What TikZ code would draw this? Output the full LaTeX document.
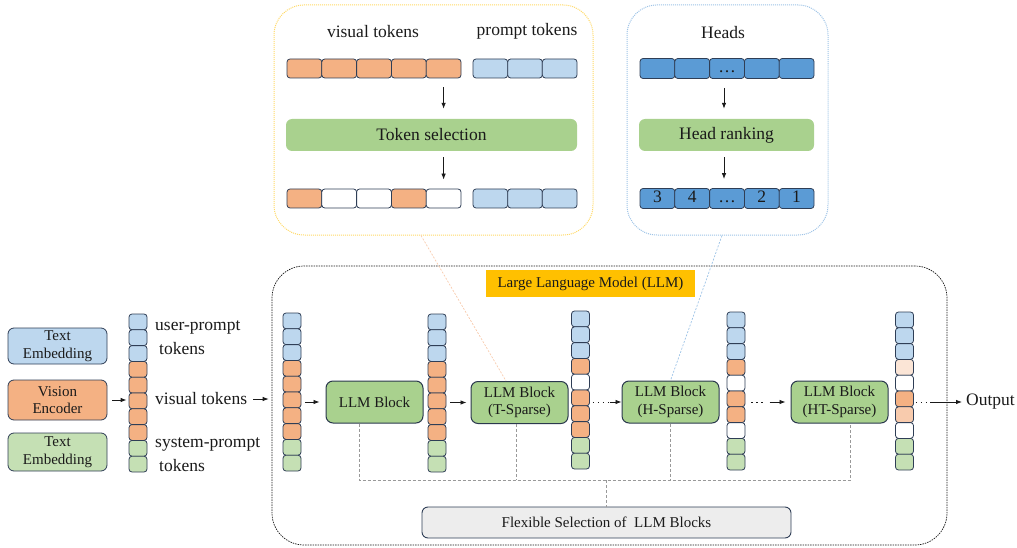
\documentclass[tikz,border=0pt]{standalone}
\usepackage{fontspec}
\setmainfont{Liberation Serif}
\usetikzlibrary{arrows.meta,calc}
\definecolor{cB}{HTML}{BDD7EE}
\definecolor{cO}{HTML}{F4B183}
\definecolor{cG}{HTML}{C5E0B4}
\definecolor{cW}{HTML}{FFFFFF}
\definecolor{cL1}{HTML}{FBE5D6}
\definecolor{cL2}{HTML}{F8CBAD}
\definecolor{cH}{HTML}{5B9BD5}
\definecolor{blk}{HTML}{A9D18E}
\definecolor{gold}{HTML}{FFC000}
\definecolor{flexgray}{HTML}{EDEDED}
\definecolor{edge}{HTML}{2F3E56}
\definecolor{ybord}{HTML}{FFD966}
\definecolor{bbord}{HTML}{9DC3E6}
\definecolor{txt}{HTML}{1A1A1A}
\newcommand{\tokcol}[4]{%
  \foreach \c [count=\i] in {#4} {
    \node[cell, fill=\c] (#1-\i) at (#2, {#3+\i*15.8-7.9}) {};
  }}
\newcommand{\tokrow}[5]{%
  \foreach \c [count=\i] in {#5} {
    \node[rcell, minimum width=#4pt, fill=\c] (#1-\i) at ({#2+(\i-0.5)*#4}, #3) {};
  }}
\begin{document}
\begin{tikzpicture}[x=1pt,y=-1pt,
  every node/.style={text=txt, font=\fontsize{15}{17.5}\selectfont, inner sep=0pt},
  big/.style={font=\fontsize{17.5}{20}\selectfont},
  cell/.style={draw=edge, line width=0.8pt, rounded corners=3pt, minimum width=18pt, minimum height=15.8pt},
  rcell/.style={draw=edge, line width=0.8pt, rounded corners=3pt, minimum height=19pt},
  blockbox/.style={draw=edge!90!black, line width=1pt, fill=blk, rounded corners=7pt, minimum width=97pt, minimum height=42pt, align=center},
  inbox/.style={draw=edge, line width=0.8pt, rounded corners=6pt, minimum width=99pt, align=center},
  selbox/.style={fill=blk, rounded corners=6pt, minimum height=32pt, big},
  arr/.style={-{Latex[length=6pt,width=4.5pt]}, line width=0.8pt, draw=txt},
  dotp/.style={line width=0.9pt, dash pattern=on 1.5pt off 3.5pt, draw=txt},
  gdash/.style={draw=gray!80, line width=0.8pt, dash pattern=on 3pt off 2pt},
]
\useasboundingbox (0,0) rectangle (1017,548);

% ---- top zoom boxes
\node[draw=ybord, line width=1pt, dash pattern=on 1pt off 1pt, rounded corners=30pt, minimum width=319pt, minimum height=230pt] (ybox) at (433.5,120) {};
\node[draw=bbord, line width=1pt, dash pattern=on 1pt off 1pt, rounded corners=30pt, minimum width=201pt, minimum height=230pt] (bbox) at (727.5,120) {};

\node[big] (vtl) at (373,32) {visual tokens};
\node[big] (ptl) at (527,31) {prompt tokens};
\node[big] (hdl) at (723,33) {Heads};

\tokrow{v}{287}{68.5}{34.8}{cO,cO,cO,cO,cO}
\tokrow{p}{473}{68.5}{34.67}{cB,cB,cB}
\node[selbox, minimum width=291pt] (tsel) at (431.5,135) {Token selection};
\tokrow{vs}{287}{198.5}{34.8}{cO,cW,cW,cO,cW}
\tokrow{ps}{473}{198.5}{34.67}{cB,cB,cB}
\draw[arr, shorten <=9pt, shorten >=10pt] (v-5.south) -- (v-5.south |- tsel.north);
\draw[arr, shorten <=6pt, shorten >=9pt] (v-5.south |- tsel.south) -- (vs-5.north);

\foreach \t [count=\i] in {,,…,,} {
  \node[rcell, big, minimum width=34.8pt, fill=cH] (h-\i) at ({640+(\i-0.5)*34.8}, 68.5) {\strut\t};
}
\node[selbox, minimum width=175pt] (hrank) at (726.5,135) {Head ranking};
\foreach \t [count=\i] in {3,4,…,2,1} {
  \node[rcell, big, minimum width=34.8pt, fill=cH] (hr-\i) at ({640+(\i-0.5)*34.8}, 198.5) {\strut\t};
}
\draw[arr, shorten <=9pt, shorten >=10pt] ([xshift=-3pt]h-3.south) -- ([xshift=-3pt]h-3.south |- hrank.north);
\draw[arr, shorten <=6pt, shorten >=9pt] ([xshift=-3pt]h-3.south |- hrank.south) -- ([xshift=-3pt]hr-3.north);

% ---- left inputs
\node[inbox, fill=cB, minimum height=36pt] (te1) at (57.5,346) {Text\\Embedding};
\node[inbox, fill=cO, minimum height=40pt] (venc) at (57.5,400) {Vision\\Encoder};
\node[inbox, fill=cG, minimum height=38pt] (te2) at (57.5,452) {Text\\Embedding};
\tokcol{lc}{138}{314}{cB,cB,cB,cO,cO,cO,cO,cO,cG,cG}
\draw[arr, shorten <=5pt, shorten >=2pt] (venc.east) -- (venc.east -| lc-6.west);
\node[big, anchor=west] (up1) at (155,327) {user-prompt};
\node[big, anchor=west] (up2) at (159,349) {tokens};
\node[big, anchor=west] (vtk) at (155,399) {visual tokens};
\node[big, anchor=west] (sp1) at (155,444) {system-prompt};
\node[big, anchor=west] (sp2) at (159,466) {tokens};

% ---- LLM box
\node[draw=txt, line width=0.7pt, dash pattern=on 1.5pt off 1pt, rounded corners=32pt, minimum width=675pt, minimum height=279pt] (llm) at (609.5,405.5) {};
\node[fill=gold, minimum width=209pt, minimum height=27pt] (llml) at (590.5,283.5) {Large Language Model (LLM)};
\draw[arr, shorten <=6pt, shorten >=3pt] (vtk.east) -- (vtk.east -| llm.west);

\tokcol{c1}{292}{313}{cB,cB,cB,cO,cO,cO,cO,cO,cG,cG}
\tokcol{c2}{437}{314}{cB,cB,cB,cO,cO,cO,cO,cO,cG,cG}
\tokcol{c3}{580.5}{311}{cB,cB,cB,cO,cW,cO,cO,cO,cG,cG}
\tokcol{c4}{736}{312}{cB,cB,cB,cO,cW,cO,cO,cW,cG,cG}
\tokcol{c5}{904.5}{312}{cB,cB,cB,cL1,cW,cO,cL2,cW,cG,cG}

\node[blockbox] (b1) at (374.5,402) {LLM Block};
\node[blockbox] (b2) at (519.5,402.5) {LLM Block\\(T-Sparse)};
\node[blockbox] (b3) at (670.5,402) {LLM Block\\(H-Sparse)};
\node[blockbox] (b4) at (839.5,402) {LLM Block\\(HT-Sparse)};

\draw[arr, shorten <=4pt, shorten >=6pt] (c1-6.east |- b1.west) -- (b1.west);
\draw[arr, shorten <=4pt, shorten >=4pt] (c2-6.east |- b2.west) -- (b2.west);
\draw[dotp, shorten <=3pt] (c3-6.east |- b3.west) -- ([xshift=-12pt]b3.west);
\draw[arr] ([xshift=-12pt]b3.west) -- (b3.west);
\draw[dotp, shorten <=6pt] (c4-6.east |- b4.west) -- ([xshift=-28pt]b4.west);
\draw[arr, shorten >=5pt] ([xshift=-21pt]b4.west) -- (b4.west);
\node[big, anchor=west] (out) at (966,402) {Output};
\draw[dotp, shorten <=2pt] (c5-6.east |- out.west) -- ([xshift=-36pt]out.west);
\draw[arr, shorten >=4pt] ([xshift=-36pt]out.west) -- (out.west);

% ---- flexible selection
\node[draw=edge, line width=0.9pt, fill=flexgray, rounded corners=6pt, minimum width=369pt, minimum height=31pt] (flex) at (606.5,522.5) {Flexible Selection of \ LLM Blocks};
\coordinate (hub) at (606,480);
\draw[gdash] ([xshift=-15.5pt]b1.south) |- (hub) -| ([xshift=10.5pt]b4.south);
\draw[gdash] ([xshift=-3.5pt]b2.south) -- ([xshift=-3.5pt]b2.south |- hub);
\draw[gdash] (b3.south) -- (b3.south |- hub);
\draw[gdash] (hub) -- (flex.north -| hub);

% ---- zoom lines
\draw[draw=cL2, line width=0.7pt, dash pattern=on 2pt off 1.5pt] ([xshift=-12.5pt]ybox.south) -- ([xshift=-13.5pt]b2.north);
\draw[draw=bbord, line width=0.7pt, dash pattern=on 2pt off 1.5pt] ([xshift=-5.5pt]bbox.south) -- (b3.north);
\end{tikzpicture}
\end{document}
